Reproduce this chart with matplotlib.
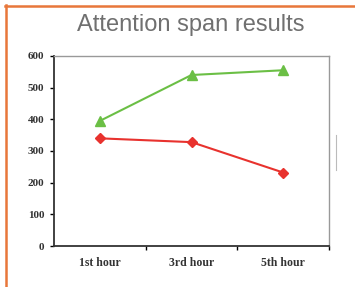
import numpy as np
import matplotlib.pyplot as plt
from matplotlib.lines import Line2D

# data:
hours = ["1st hour", "3rd hour", "5th hour"]
green_vals = [395, 540, 555]
red_vals = [340, 328, 232]
y_ticks = [0, 100, 200, 300, 400, 500, 600]

fig = plt.figure(figsize=(3.55, 2.87), dpi=100)
W, H = 355, 287

# slide frame (orange border left/top)
fig.add_artist(Line2D([5.5/W, 5.5/W], [0, 1-5/H], color="#E8773A", lw=1.8))
fig.add_artist(Line2D([5/W, 1], [1-5.5/H, 1-5.5/H], color="#E8773A", lw=1.8))

fig.text(191/W, 1-25/H, "Attention span results", ha="center", va="center",
         fontsize=17, color="#707070", family="Liberation Sans")

ax = fig.add_axes([54/W, 1-246/H, (329-54)/W, (246-56)/H])
x = np.arange(len(hours))
ax.plot(x, green_vals, color="#6BBF45", lw=1.5, marker="^", ms=7)
ax.plot(x, red_vals, color="#E8322E", lw=1.5, marker="D", ms=5)

ax.set_xlim(-0.5, 2.5)
ax.set_ylim(0, 600)
ax.set_yticks(y_ticks)
ax.set_yticklabels([str(v) for v in y_ticks], family="Liberation Serif",
                   fontweight="bold", fontsize=8, color="#333333")
ax.set_xticks([0.5, 1.5, 2.5])
ax.set_xticklabels([])
ax.set_xticks(x, minor=True)
ax.set_xticklabels(hours, minor=True, family="Liberation Serif",
                   fontweight="bold", fontsize=8.5, color="#333333")
ax.tick_params(axis="x", which="minor", length=0, pad=8)
ax.tick_params(axis="x", which="major", length=3, direction="out", width=1)
ax.tick_params(axis="y", length=3, width=1, pad=4)

for s in ["left", "bottom"]:
    ax.spines[s].set_color("#333333")
    ax.spines[s].set_linewidth(1.3)
for s in ["top", "right"]:
    ax.spines[s].set_color("#999999")
    ax.spines[s].set_linewidth(1)

# small stray mark at right
fig.add_artist(Line2D([336/W, 336/W], [1-135/H, 1-170/H], color="#bbbbbb", lw=0.8))

fig.savefig("out.png", dpi=100)
